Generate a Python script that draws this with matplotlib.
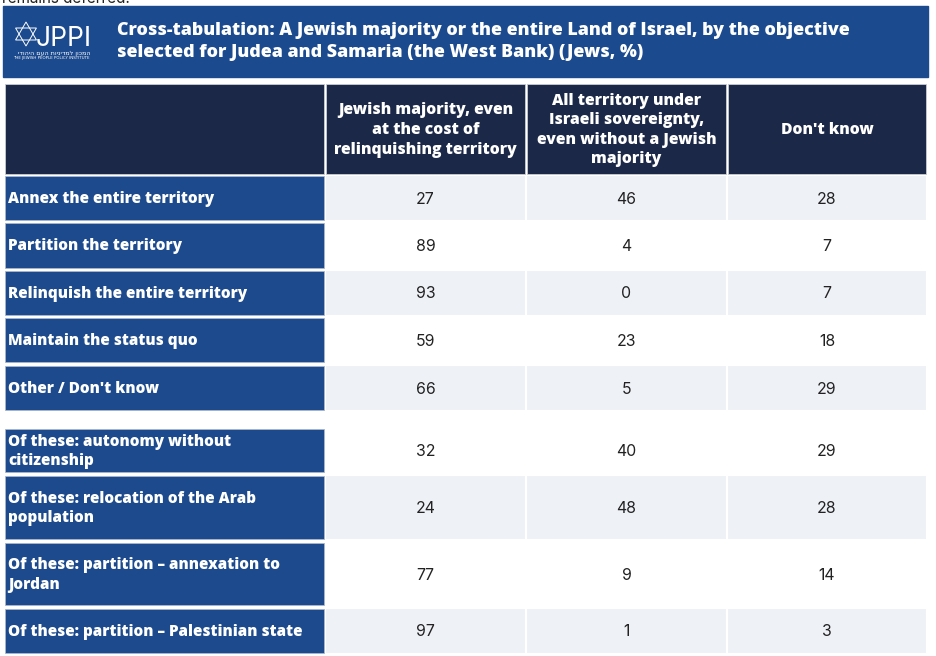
import matplotlib.pyplot as plt
from matplotlib.patches import Rectangle, Polygon

title = ('Cross-tabulation: A Jewish majority or the entire Land of Israel, by the objective\n'
         'selected for Judea and Samaria (the West Bank) (Jews, %)')
col_headers = [
    'Jewish majority, even\nat the cost of\nrelinquishing territory',
    'All territory under\nIsraeli sovereignty,\neven without a Jewish\nmajority',
    "Don't know",
]
row_labels = [
    'Annex the entire territory',
    'Partition the territory',
    'Relinquish the entire territory',
    'Maintain the status quo',
    'Other / Don\'t know',
    'Of these: autonomy without\ncitizenship',
    'Of these: relocation of the Arab\npopulation',
    'Of these: partition \u2013 annexation to\nJordan',
    'Of these: partition \u2013 Palestinian state',
]
jewish_majority = [27, 89, 93, 59, 66, 32, 24, 77, 97]
all_territory = [46, 4, 0, 23, 5, 40, 48, 9, 1]
dont_know = [28, 7, 7, 18, 29, 29, 28, 14, 3]

BANNER = '#1b4a8e'
HEADER = '#1c2848'
LABEL = '#1c4a8d'
SHADE = '#eef1f6'
BOLD_FONT = 'Open Sans'
NUM_FONT = 'Inter'

# layout in pixels
col_edges = [4, 325, 526, 727, 927]
header_top, header_bot = 84, 174
row_tops = [176, 223, 271, 318, 366, 429, 476, 543, 609]
row_bots = [220, 268, 315, 362, 410, 472, 539, 605, 653]

fig = plt.figure(figsize=(9.36, 6.56), dpi=100)
ax = fig.add_axes([0, 0, 1, 1])
ax.set_xlim(0, 936)
ax.set_ylim(656, 0)
ax.axis('off')

# cut-off line of text from the page above
ax.text(2, 3, 'remains deferred.', fontsize=11, family=NUM_FONT, color='#222222', va='baseline')

# banner
ax.add_patch(Rectangle((3, 6), 925, 71, color=BANNER))
ax.text(117, 41.5, title, color='white', fontsize=12.9, fontweight='heavy', family=BOLD_FONT,
        va='center', ha='left', linespacing=1.33)

# logo: star of David and lettering
cx, cy, r = 26, 34, 12
ax.add_patch(Polygon([(cx, cy - r), (cx - 0.87 * r, cy + 0.5 * r), (cx + 0.87 * r, cy + 0.5 * r)],
                     closed=True, fill=False, ec='white', lw=0.7))
ax.add_patch(Polygon([(cx, cy + r), (cx - 0.87 * r, cy - 0.5 * r), (cx + 0.87 * r, cy - 0.5 * r)],
                     closed=True, fill=False, ec='white', lw=0.7))
ax.text(36, 46, 'JPPI', color='white', fontsize=19, family=NUM_FONT, va='baseline', ha='left')
ax.text(90, 53, 'המכון למדיניות העם היהודי'[::-1], color='white', fontsize=4.6,
        family='DejaVu Sans', va='center', ha='right')
ax.text(90, 58.5, 'THE JEWISH PEOPLE POLICY INSTITUTE', color='white', fontsize=2.9,
        family='DejaVu Sans', va='center', ha='right')

# header row
for i in range(4):
    x0, x1 = col_edges[i], col_edges[i + 1]
    ax.add_patch(Rectangle((x0 + 1, header_top), x1 - x0 - 2, header_bot - header_top,
                           fc=HEADER, ec='#c8ccd4', lw=0.6))
    if i > 0:
        ax.text((x0 + x1) / 2, (header_top + header_bot) / 2 + 1, col_headers[i - 1],
                color='white', fontsize=11.3, fontweight='heavy', family=BOLD_FONT,
                ha='center', va='center', linespacing=1.3)

# body rows
for r_i, label in enumerate(row_labels):
    y0, y1 = row_tops[r_i], row_bots[r_i]
    ym = (y0 + y1) / 2
    ax.add_patch(Rectangle((col_edges[0] + 1, y0), col_edges[1] - col_edges[0] - 2, y1 - y0,
                           fc=LABEL, ec='#a9b7cf', lw=0.6))
    ax.text(8, ym + 1, label, color='white', fontsize=11, fontweight='heavy', family=BOLD_FONT,
            ha='left', va='center', linespacing=1.3)
    fc = SHADE if r_i % 2 == 0 else 'white'
    values = [jewish_majority[r_i], all_territory[r_i], dont_know[r_i]]
    for c in range(3):
        x0, x1 = col_edges[c + 1], col_edges[c + 2]
        ax.add_patch(Rectangle((x0 + 1, y0), x1 - x0 - 2, y1 - y0, fc=fc, ec='none'))
        ax.text((x0 + x1) / 2, ym + 1, str(values[c]), color='#222222', fontsize=11.4,
                family=NUM_FONT, ha='center', va='center')

fig.savefig('out.png', dpi=100)
